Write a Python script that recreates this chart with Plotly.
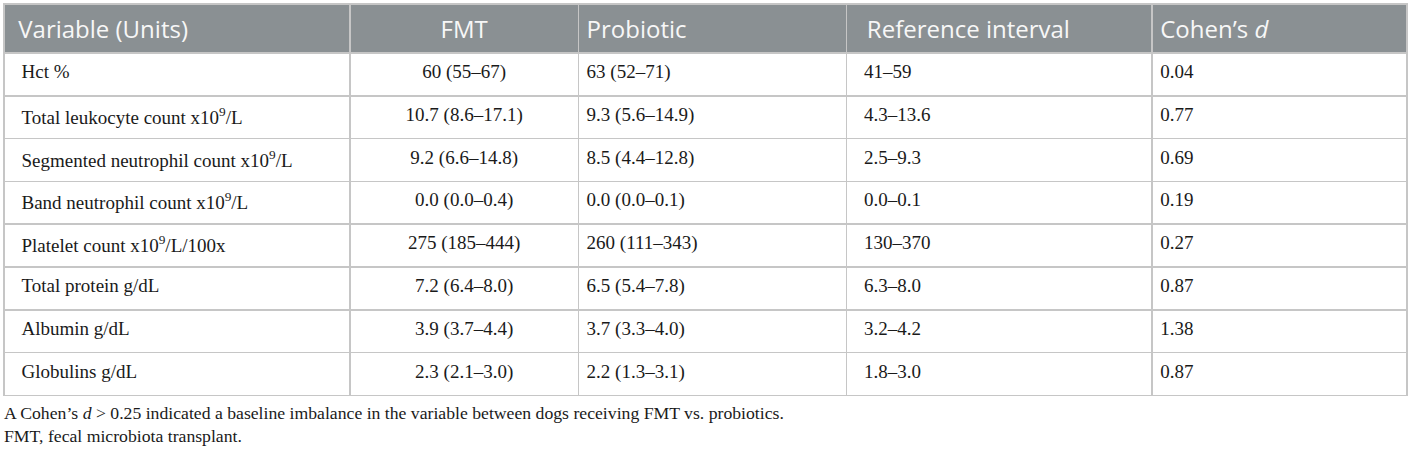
import plotly.graph_objects as go

# Table content
headers = ["Variable (Units)", "FMT", "Probiotic", "Reference interval", "Cohen\u2019s <i>d</i>"]
variables = [
    "Hct %",
    "Total leukocyte count x10<sup>9</sup>/L",
    "Segmented neutrophil count x10<sup>9</sup>/L",
    "Band neutrophil count x10<sup>9</sup>/L",
    "Platelet count x10<sup>9</sup>/L/100x",
    "Total protein g/dL",
    "Albumin g/dL",
    "Globulins g/dL",
]
fmt = ["60 (55\u201367)", "10.7 (8.6\u201317.1)", "9.2 (6.6\u201314.8)", "0.0 (0.0\u20130.4)",
       "275 (185\u2013444)", "7.2 (6.4\u20138.0)", "3.9 (3.7\u20134.4)", "2.3 (2.1\u20133.0)"]
probiotic = ["63 (52\u201371)", "9.3 (5.6\u201314.9)", "8.5 (4.4\u201312.8)", "0.0 (0.0\u20130.1)",
             "260 (111\u2013343)", "6.5 (5.4\u20137.8)", "3.7 (3.3\u20134.0)", "2.2 (1.3\u20133.1)"]
ref_interval = ["41\u201359", "4.3\u201313.6", "2.5\u20139.3", "0.0\u20130.1",
                "130\u2013370", "6.3\u20138.0", "3.2\u20134.2", "1.8\u20133.0"]
cohens_d = ["0.04", "0.77", "0.69", "0.19", "0.27", "0.87", "1.38", "0.87"]

footnotes = [
    "A Cohen\u2019s <i>d</i> > 0.25 indicated a baseline imbalance in the variable between dogs receiving FMT vs. probiotics.",
    "FMT, fecal microbiota transplant.",
]

W, H = 1412, 450
line_col = "#c6c6c6"


def cell(txt, pad=""):
    # wrapping every cell the same way keeps the text baselines consistent
    return "<span>" + pad + txt + "</span>"


hdr = [cell(headers[0], "\u00a0"), cell(headers[1]), cell(headers[2]),
       cell(headers[3], "\u00a0\u00a0"), cell(headers[4])]
cols = [[cell(v, "\u00a0\u00a0") for v in variables],
        [cell(v) for v in fmt],
        [cell(v) for v in probiotic],
        [cell(v, "\u00a0\u00a0") for v in ref_interval],
        [cell(v) for v in cohens_d]]

fig = go.Figure(go.Table(
    columnwidth=[346, 229, 268, 306, 255],
    header=dict(
        values=hdr,
        fill_color="#8a9093",
        line=dict(color=line_col, width=1.5),
        font=dict(family="Open Sans", size=24, color="#f7f7f7"),
        align=["left", "center", "left", "left", "left"],
        height=46,
    ),
    cells=dict(
        values=cols,
        fill_color="white",
        line=dict(color=line_col, width=1.5),
        font=dict(family="Liberation Serif", size=19, color="#1a1a1a"),
        align=["left", "center", "left", "left", "left"],
        height=42.8,
    ),
    domain=dict(x=[4 / W, 1408 / W], y=[0, 1]),
))

for i, note in enumerate(footnotes):
    fig.add_annotation(
        text=note, xref="paper", yref="paper",
        x=2 / W, y=1 - (413 + 23 * i) / H,
        xanchor="left", yanchor="middle", showarrow=False,
        font=dict(family="Liberation Serif", size=17.7, color="#1a1a1a"),
    )

fig.update_layout(
    width=W, height=H,
    margin=dict(l=0, r=0, t=4, b=0),
    paper_bgcolor="white",
)

fig.write_html("out.html", config={"displayModeBar": False},
               post_script="document.body.style.margin='0';")
